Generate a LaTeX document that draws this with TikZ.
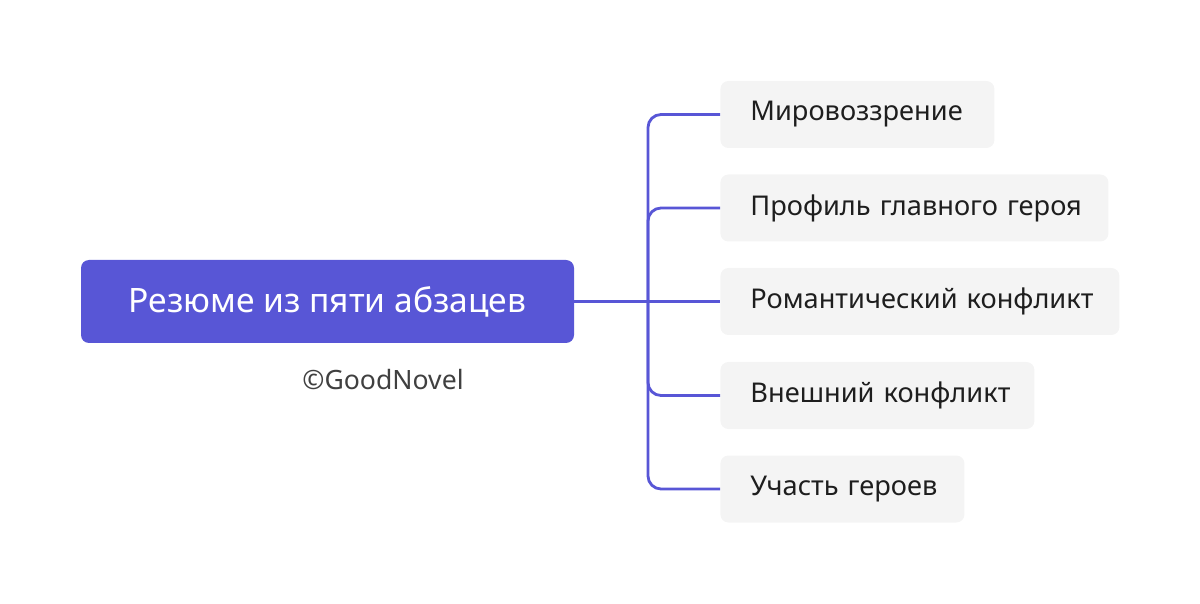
\documentclass[tikz,border=0pt]{standalone}
\usepackage{fontspec}
\setmainfont{Noto Sans}
\definecolor{mainblue}{HTML}{5856D6}
\definecolor{leafgray}{HTML}{F4F4F4}
\definecolor{leaftext}{HTML}{1E1E1E}

\begin{document}
\begin{tikzpicture}[x=0.5pt,y=-0.5pt,
		rootbox/.style={fill=mainblue,rounded corners=4pt,text=white,minimum width=246.5pt,minimum height=41.5pt,font=\fontsize{16.8}{19}\selectfont},
		leafbox/.style={fill=leafgray,rounded corners=4pt,text=leaftext,minimum height=33.5pt,anchor=west,align=left,inner xsep=15pt,font=\fontsize{13.6}{16}\selectfont},
		branch/.style={draw=mainblue,line width=1.4pt,rounded corners=6.5pt}]
		\useasboundingbox (0,0) rectangle (1200,604);

		\node[rootbox] (root) at (327.5,301.5){Резюме из пяти абзацев};
		\node[text=leaftext!85,font=\fontsize{13.3}{15}\selectfont] (copy) at (383,380){©GoodNovel};

		\node[leafbox,text width=107pt] (A) at (720,114.5){\mbox{Мировоззрение}};
		\node[leafbox,text width=164pt] (B) at (720,208){\mbox{Профиль главного героя}};
		\node[leafbox,text width=169.5pt] (C) at (720,301.5){\mbox{Романтический конфликт}};
		\node[leafbox,text width=127pt] (D) at (720,395.5){\mbox{Внешний конфликт}};
		\node[leafbox,text width=92pt] (E) at (720,489){\mbox{Участь героев}};

		\coordinate (fork) at (648,301.5);

		\draw[branch] (root.east) -- (C.west);
		\draw[branch] (fork) |- (A.west);
		\draw[branch] (fork) |- (B.west);
		\draw[branch] (fork) |- (D.west);
		\draw[branch] (fork) |- (E.west);

	\end{tikzpicture}
\end{document}
